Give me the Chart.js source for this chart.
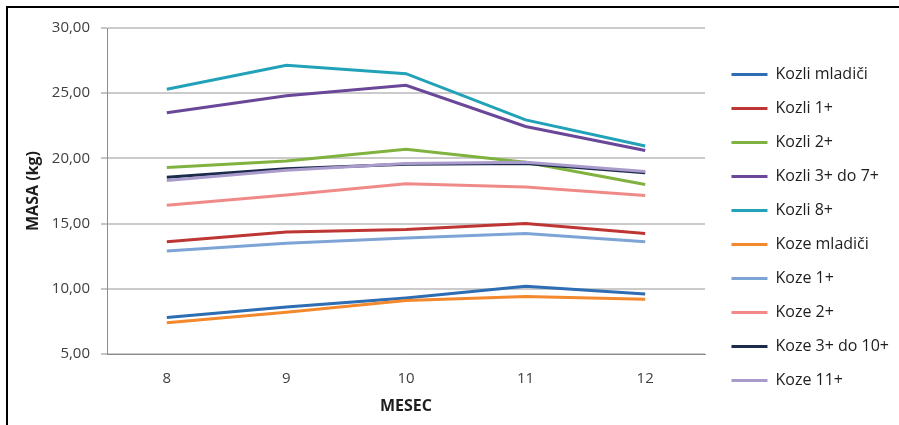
<!DOCTYPE html>
<html>
  <head>
    <meta charset="utf-8">
    <title>masa</title>
    <script src="https://cdn.jsdelivr.net/npm/chart.js@4.4.1/dist/chart.umd.min.js"></script>
    <style>
      body { margin: 0; background: #ffffff; overflow: hidden; }
      .frame {
        position: absolute; left: 6px; top: 6px;
        width: 920px; height: 440px;
        border-left: 2px solid #000; border-top: 2px solid #000;
      }
      .box { position: absolute; left: 8px; top: 8px; width: 891px; height: 420px; }
    </style>
  </head>
  <body>
    <div class="frame"></div>
    <div class="box"><canvas id="myChart"></canvas></div>
  <script>
    // months on the x axis
    const months = ['8', '9', '10', '11', '12'];

    const kozliMladici = [7.8, 8.6, 9.3, 10.2, 9.6];
    const kozli1 = [13.6, 14.35, 14.55, 15.0, 14.25];
    const kozli2 = [19.3, 19.8, 20.7, 19.7, 18.0];
    const kozli3do7 = [23.5, 24.8, 25.6, 22.45, 20.6];
    const kozli8 = [25.3, 27.15, 26.5, 22.95, 20.95];
    const kozeMladici = [7.4, 8.2, 9.1, 9.4, 9.2];
    const koze1 = [12.9, 13.5, 13.9, 14.25, 13.6];
    const koze2 = [16.4, 17.2, 18.05, 17.8, 17.15];
    const koze3do10 = [18.55, 19.2, 19.55, 19.6, 18.9];
    const koze11 = [18.3, 19.1, 19.6, 19.7, 19.0];

    const seriesNames = ['Kozli mladiči', 'Kozli 1+', 'Kozli 2+', 'Kozli 3+ do 7+', 'Kozli 8+',
      'Koze mladiči', 'Koze 1+', 'Koze 2+', 'Koze 3+ do 10+', 'Koze 11+'];
    const seriesValues = [kozliMladici, kozli1, kozli2, kozli3do7, kozli8,
      kozeMladici, koze1, koze2, koze3do10, koze11];
    const seriesColors = ['#2d6db3', '#be3633', '#80b23f', '#6a4798', '#22a2b9',
      '#f3892c', '#7ea4d6', '#f08a88', '#1c2a4c', '#a99bcb'];

    const yTickValues = [5, 10, 15, 20, 25, 30];

    const datasets = seriesNames.map(function(name, i) {
      return {
        label: name,
        data: seriesValues[i],
        borderColor: seriesColors[i],
        backgroundColor: seriesColors[i],
        borderWidth: 3,
        pointRadius: 0,
        tension: 0,
        order: seriesNames.length - i
      };
    });

    const font = "'Open Sans', sans-serif";
    const plotRight = 697;

    new Chart(document.getElementById('myChart').getContext('2d'), {
      type: 'line',
      data: { labels: months, datasets: datasets },
      options: {
        responsive: true,
        maintainAspectRatio: false,
        animation: false,
        layout: { padding: { top: 19, right: 0, bottom: 0, left: 0 } },
        plugins: {
          tooltip: { enabled: false },
          legend: {
            position: 'right',
            align: 'center',
            maxWidth: 194,
            labels: {
              usePointStyle: true,
              pointStyle: 'line',
              pointStyleWidth: 36,
              padding: 18,
              color: '#1e1e1e',
              font: { family: font, size: 16 },
              sort: function(a, b) { return a.datasetIndex - b.datasetIndex; }
            }
          }
        },
        scales: {
          x: {
            offset: true,
            grid: { display: false, drawTicks: false },
            border: { display: true, color: '#8c8c8c', width: 1 },
            ticks: { padding: 16, color: '#404040', font: { family: font, size: 15 } },
            title: {
              display: true, text: 'MESEC', color: '#1e1e1e',
              font: { family: font, size: 16, weight: 'bold' },
              padding: { top: 0, bottom: 12 }
            },
            afterFit: function(s) { s.height = 74; }
          },
          y: {
            min: 5, max: 30,
            afterBuildTicks: function(s) { s.ticks = yTickValues.map(function(v) { return { value: v }; }); },
            grid: { color: '#cbcbcb', lineWidth: 2, tickLength: 6, tickColor: '#8c8c8c', tickWidth: 1 },
            border: { display: true, color: '#8c8c8c', width: 1 },
            ticks: {
              padding: 11, color: '#404040', font: { family: font, size: 15 },
              callback: function(v) { return Number(v).toFixed(2).replace('.', ','); }
            },
            title: {
              display: true, text: 'MASA (kg)', color: '#1e1e1e',
              font: { family: font, size: 16, weight: 'bold' },
              padding: { top: 16, bottom: 0 }
            },
            afterFit: function(s) { s.width = 99; }
          },
          gap: {
            position: 'right',
            display: true,
            grid: { display: false, drawTicks: false },
            border: { display: false },
            ticks: { display: false },
            afterFit: function(s) {
              s.width = Math.max(0, s.chart.width - plotRight - (s.chart.legend ? s.chart.legend.width : 0));
            }
          }
        }
      }
    });
  </script>
  </body>
</html>
